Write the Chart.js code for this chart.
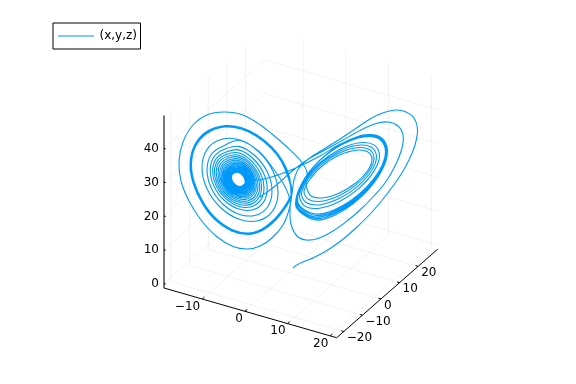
<!DOCTYPE html>
<html lang="en">
<head>
    <meta charset="UTF-8">
    <title>Lorenz attractor</title>
    <script src="https://cdn.jsdelivr.net/npm/chart.js"></script>
    <style>
        body { margin: 0; background: #fff; }
        canvas { display: block; }
    </style>
</head>
<body>
    <canvas id="lorenz" width="576" height="384"></canvas>

    <script>
        const seriesName = '(x,y,z)';
        const xTicks = [-10, 0, 10, 20];
        const yTicks = [-20, -10, 0, 10, 20];
        const zTicks = [0, 10, 20, 30, 40];

        // Curve, in the plane of the projected plot
        const firstLeg = [[293,268],[296,265.5],[303,262],[314,257.5],[327,250.5],[342,240],[357,227],[372,212],[387,194],[400,176],[409,160],[415,145],[417.5,130],[414,118],[406,112],[396,110],[384,112.5],[370,119],[355,129],[340,139],[324,149],[309,158.5],[299,168],[294,180],[292,194],[289,210],[283,225],[272,238],[260,246],[248,249],[233,246.5],[216,236],[201,220],[189,201],[181,181],[179,161],[183,142],[193,125],[208,114.5],[224,112],[240,114],[256,122],[272,134],[287,147],[300,160],[307,172],[306,182]];
        const rightInner = [
            [307,188.8],[311.4,196.2],[323.3,197.8],[339.5,192.9],[355.8,183],[367.6,170.7],[372,159.2],[367.6,151.8],[355.8,150.2],[339.5,155.1],[323.3,165],[311.4,177.3],
            [304,191.1],[308.7,199.5],[321.5,201.2],[339,195.8],[356.5,184.6],[369.3,170.7],[374,157.9],[369.3,149.5],[356.5,147.8],[339,153.2],[321.5,164.4],[308.7,178.3],
            [301.5,193.5],[306.5,202.8],[320.3,204.7],[339,198.6],[357.8,186.3],[371.5,170.8],[376.5,156.5],[371.5,147.2],[357.8,145.3],[339,151.4],[320.3,163.7],[306.5,179.2],
            [299.5,195.8],[304.9,206.1],[319.5,208.2],[339.5,201.5],[359.5,187.9],[374.1,170.9],[379.5,155.2],[374.1,144.9],[359.5,142.8],[339.5,149.5],[319.5,163.1],[304.9,180.1]];
        const rightBand = [
            [297.5,199.5],[304,209.5],[319.5,214.1],[341.5,206.2],[363.5,190.1],[379.6,170.1],[385.5,151.5],[379.6,139.3],[363.5,136.9],[341.5,144.8],[319.5,160.9],[303.4,181],
            [297,200.6],[304,210.6],[319.3,215.6],[341.5,207.5],[363.8,191],[380,170.4],[386,151.4],[380,138.9],[363.8,136.4],[341.5,144.5],[319.3,161],[303,181.6],
            [296.5,201.8],[303.5,212],[319,217.1],[341.5,208.8],[364,191.9],[380.5,170.8],[386.5,151.2],[380.5,138.5],[364,135.9],[341.5,144.2],[319,161.1],[302.5,182.2],
            [296,202.9],[303,213],[318.8,218.6],[341.5,210.1],[364.3,192.8],[380.9,171.2],[387,151.1],[380.9,138.1],[364.3,135.4],[341.5,143.9],[318.8,161.2],[302.1,182.8],
            [295.5,204],[302.5,214],[318.5,220.1],[341.5,211.4],[364.5,193.6],[381.3,171.5],[387.5,150.9],[381.3,137.6],[364.5,134.9],[341.5,143.6],[320,156],[298,167],[278,175],[260,180],[250,181]];
        const leftRings = [
            [243.6,184.7],[241.3,186.3],[238,186.2],[234.8,184.2],[232.4,181],[231.5,177.4],[232.4,174.3],[234.8,172.7],
            [238,172.2],[241.6,174.3],[244.2,177.8],[245.2,181.8],[244.2,185.2],[241.6,187],[238,186.9],[234.4,184.7],[231.8,181.2],[230.8,177.2],[231.8,173.8],[234.4,172],
            [238,171.4],[242,173.8],[244.9,177.7],[246,182.1],[244.9,185.8],[242,187.8],[238,187.6],[234,185.3],[231.1,181.3],[230,176.9],[231.1,173.2],[234,171.2],
            [238,170.5],[242.4,173.2],[245.6,177.5],[246.8,182.3],[245.6,186.4],[242.4,188.7],[238,188.5],[233.6,185.9],[230.4,181.5],[229.2,176.7],[230.4,172.6],[233.6,170.3],
            [238,169.7],[242.8,172.5],[246.3,177.3],[247.6,182.6],[246.3,187.1],[242.8,189.6],[238,189.3],[233.2,186.5],[229.7,181.7],[228.4,176.4],[229.7,171.9],[233.2,169.5],
            [238,168.7],[243.3,171.9],[247.1,177.1],[248.5,182.9],[247.1,187.8],[243.3,190.5],[238,190.3],[232.8,187.1],[228.9,181.9],[227.5,176.1],[228.9,171.2],[232.8,168.5],
            [238,167.8],[243.7,171.2],[247.9,176.8],[249.4,183.2],[247.9,188.6],[243.7,191.5],[238,191.2],[232.3,187.8],[228.1,182.2],[226.6,175.8],[228.1,170.4],[232.3,167.5],
            [238,166.7],[244.2,170.4],[248.7,176.6],[250.4,183.5],[248.7,189.4],[244.2,192.6],[238,192.3],[231.8,188.6],[227.3,182.4],[225.6,175.5],[227.3,169.6],[231.8,166.4],
            [238,165.7],[244.7,169.7],[249.6,176.4],[251.4,183.9],[249.6,190.2],[244.7,193.7],[238,193.3],[231.3,189.3],[226.4,182.6],[224.6,175.1],[226.4,168.8],[231.3,165.4],
            [238,164.5],[245.3,168.9],[250.6,176.1],[252.5,184.2],[250.6,191.1],[245.3,194.8],[238,194.5],[230.8,190.1],[225.4,182.9],[223.5,174.8],[225.4,167.9],[230.8,164.2],
            [238,163.3],[245.9,168],[251.6,175.8],[253.7,184.6],[251.6,192],[245.9,196.1],[238,195.7],[230.2,191],[224.4,183.2],[222.3,174.4],[224.4,167],[230.2,162.9],
            [238,162],[246.5,167.1],[252.7,175.5],[255,185],[252.7,193.1],[246.5,197.5],[238,197.1],[229.5,191.9],[223.3,183.5],[221,174],[223.3,165.9],[229.5,161.5],
            [238,160.4],[247.2,166],[253.9,175.2],[256.4,185.5],[253.9,194.2],[247.2,199],[238,198.6],[228.8,193],[222.1,183.8],[219.6,173.5],[222.1,164.8],[228.8,160],
            [238,158.7],[248,164.8],[255.3,174.8],[258,186.1],[255.3,195.6],[248,200.8],[238,200.3],[228,194.2],[220.7,184.2],[218,172.9],[220.7,163.4],[228,158.2],
            [238,156.9],[248.9,163.5],[256.9,174.4],[259.8,186.6],[256.9,197],[248.9,202.6],[238,202.1],[227.1,195.5],[219.1,184.6],[216.2,172.4],[219.1,162],[227.1,156.4],
            [238,155],[249.8,162.1],[258.4,174],[261.6,187.2],[258.4,198.4],[249.8,204.6],[238,204],[226.2,196.9],[217.6,185.1],[214.4,171.8],[217.6,160.6],[226.2,154.4],
            [238.3,152.8],[251.2,160.6],[260.6,173.5],[264,187.9],[260.6,200.1],[251.2,206.8],[238.3,206.2],[225.5,198.4],[216,185.6],[212.6,171.1],[216,158.9],[225.5,152.2],
            [238.7,149.9],[253,158.5],[263.4,172.8],[267.2,188.8],[263.4,202.4],[253,209.8],[238.7,209.1],[224.5,200.5],[214,186.2],[210.2,170.2],[214,156.7],[224.5,149.2],
            [239.5,146.6],[255.8,156.5],[267.7,172.8],[272,191.2],[267.7,206.7],[255.8,215.2],[239.5,214.4],[223.3,204.5],[211.4,188.2],[207,169.8],[211.4,154.3],[223.3,145.9],
            [240,140.4],[259,152],[272.9,171],[278,192.5],[272.9,210.6],[259,220.5],[240,219.6],[221,208],[207.1,189],[202,167.5],[207.1,149.4],[221,139.5],
            [240,140],[259,151.5],[272,167],[283,183],[289,196]];
        const leftThick = [
            [288.5,200],[282,210],[273,220.5],[262,229],[248,233],[232,229.5],[216,218.5],[203.5,202.5],[194.5,183],[191.5,164],[195.5,146.5],[207.5,133],[225,127],[241,129],[256,136],[271,148],[281,161],[288,177],[291.5,192],
            [289,200.5],[282.5,210.6],[273.5,221.2],[262.2,229.7],[248,233.7],[231.8,230.2],[215.5,219.1],[202.9,203],[193.8,183.2],[190.8,164],[194.9,146.1],[206.9,132.4],[225,126.3],[241,128.3],[256.5,135.5],[271.5,147.6],[281.6,160.7],[288.7,177],[292.2,192],
            [289.5,201],[283,211.2],[274,221.9],[262.4,230.4],[248,234.4],[231.6,230.9],[215,219.7],[202.3,203.5],[193.1,183.4],[190.1,164],[194.3,145.7],[206.3,131.8],[225,125.6],[241,127.6],[257,135],[272,147.2],[282.2,160.4],[289.4,177],[291,195],[290,210]];
        const lastLeg = [[291,224],[297,236],[306,240],[318,238.5],[333,231],[347,221],[360,210],[373,197],[385,183],[395,166],[402,148],[403,135],[398,126],[388,122],[376,123.5],[360,130.5],[343,140],[325,150],[307,160],[291,172],[280,182],[270,190],[260,197]];

        const curve = [...firstLeg, ...rightInner, ...rightBand, ...leftRings, ...leftThick, ...lastLeg];

        // Axis limits and the affine projection of the 3d box
        const xMin = -18.94, xMax = 21.5;
        const yMin = -23.8, yMax = 30.5;
        const zMin = -1.3, zMax = 49.7;

        function project(x, y, z) {
            return {
                x: 164 + (x - xMin) * 4.27 + (y - yMin) * 1.86,
                y: 288 + (x - xMin) * 1.23 - (y - yMin) * 1.63 - (z - zMin) * 3.38
            };
        }

        // Build a broken line out of separate segments
        function segments(pairs) {
            const out = [];
            pairs.forEach(([a, b]) => out.push(a, b, { x: NaN, y: NaN }));
            return out;
        }

        const gridPairs = [];
        xTicks.forEach(t => {
            gridPairs.push([project(t, yMin, zMin), project(t, yMax, zMin)]);
            gridPairs.push([project(t, yMax, zMin), project(t, yMax, zMax)]);
        });
        yTicks.forEach(t => {
            gridPairs.push([project(xMin, t, zMin), project(xMax, t, zMin)]);
            gridPairs.push([project(xMin, t, zMin), project(xMin, t, zMax)]);
        });
        zTicks.forEach(t => {
            gridPairs.push([project(xMin, yMin, t), project(xMin, yMax, t)]);
            gridPairs.push([project(xMin, yMax, t), project(xMax, yMax, t)]);
        });

        const axisPairs = [
            [project(xMin, yMin, zMin), project(xMax, yMin, zMin)],
            [project(xMax, yMin, zMin), project(xMax, yMax, zMin)]
        ];
        xTicks.forEach(t => axisPairs.push([project(t, yMin, zMin), project(t, yMin + 1.2, zMin)]));
        yTicks.forEach(t => axisPairs.push([project(xMax, t, zMin), project(xMax - 0.6, t, zMin)]));
        zTicks.forEach(t => axisPairs.push([project(xMin, yMin, t), project(xMin + 0.4, yMin, t)]));
        const zAxisPairs = [[project(xMin, yMin, zMin), project(xMin, yMin, zMax)]];

        const legendBox = [{ x: 53, y: 23 }, { x: 140.5, y: 23 }, { x: 140.5, y: 49 }, { x: 53, y: 49 }, { x: 53, y: 23 }];
        const legendLine = [{ x: 58, y: 36 }, { x: 94, y: 36 }];

        function fmt(t) {
            return t < 0 ? '\u2212' + Math.abs(t) : String(t);
        }

        // Tick labels and legend text go through the same scales as the lines
        const textPlugin = {
            id: 'plotText',
            afterDraw(chart) {
                const ctx = chart.ctx;
                const sx = chart.scales.x, sy = chart.scales.y;
                const put = (text, p, dx, dy, align) => {
                    ctx.textAlign = align;
                    ctx.fillText(text, sx.getPixelForValue(p.x) + dx, sy.getPixelForValue(p.y) + dy);
                };
                ctx.save();
                ctx.font = '12px "DejaVu Sans"';
                ctx.fillStyle = '#000';
                ctx.textBaseline = 'middle';
                xTicks.forEach(t => put(fmt(t), project(t, yMin, zMin), -2, 7.5, 'right'));
                yTicks.forEach(t => put(fmt(t), project(xMax, t, zMin), 3, 6.5, 'left'));
                zTicks.forEach(t => put(fmt(t), project(xMin, yMin, t), -5, 0.5, 'right'));
                put(seriesName, { x: 99.5, y: 36 }, 0, 0, 'left');
                ctx.restore();
            }
        };

        new Chart(document.getElementById('lorenz').getContext('2d'), {
            type: 'scatter',
            data: {
                datasets: [
                    { data: segments(gridPairs), showLine: true, borderColor: 'rgba(0,0,0,0.1)', borderWidth: 0.5, pointRadius: 0 },
                    { data: segments(axisPairs), showLine: true, borderColor: '#000', borderWidth: 1, pointRadius: 0 },
                    { data: segments(zAxisPairs), showLine: true, borderColor: '#555', borderWidth: 1.6, pointRadius: 0 },
                    {
                        label: seriesName,
                        data: curve.map(p => ({ x: p[0], y: p[1] })),
                        showLine: true,
                        borderColor: '#009AFA',
                        borderWidth: 1.1,
                        pointRadius: 0,
                        tension: 0.35
                    },
                    { data: legendBox, showLine: true, borderColor: '#000', borderWidth: 1, pointRadius: 0 },
                    { data: legendLine, showLine: true, borderColor: '#009AFA', borderWidth: 1.1, pointRadius: 0 }
                ]
            },
            options: {
                responsive: false,
                animation: false,
                layout: { padding: 0 },
                plugins: { legend: { display: false }, tooltip: { enabled: false } },
                scales: {
                    x: { type: 'linear', min: 0, max: 576, display: false },
                    y: { type: 'linear', min: 0, max: 384, reverse: true, display: false }
                }
            },
            plugins: [textPlugin]
        });
    </script>
</body>
</html>
